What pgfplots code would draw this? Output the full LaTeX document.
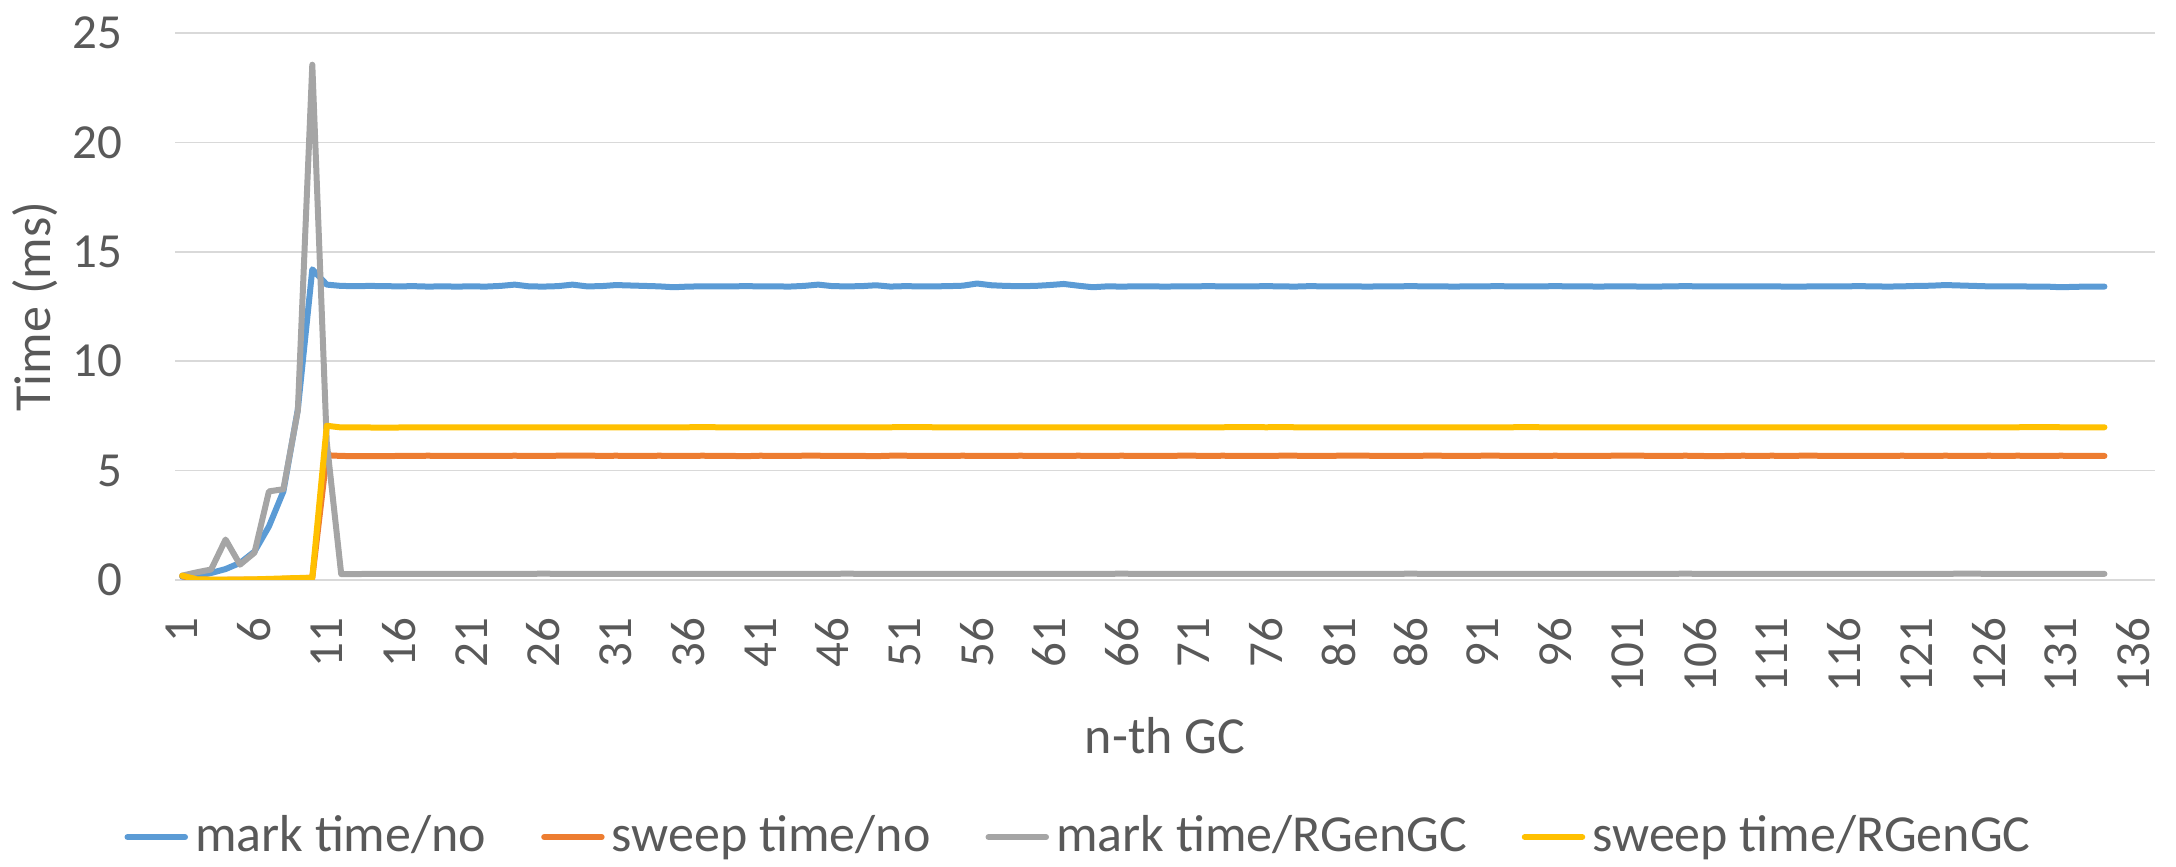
\documentclass[border=0pt]{standalone}
\usepackage{fontspec}
\setmainfont{Carlito}
\usepackage{pgfplots}
\usepackage{pgfplotstable}
\pgfplotsset{compat=1.18}
\definecolor{xlBlue}{HTML}{5B9BD5}
\definecolor{xlOrange}{HTML}{ED7D31}
\definecolor{xlGray}{HTML}{A5A5A5}
\definecolor{xlGold}{HTML}{FFC000}
\definecolor{xlText}{HTML}{595959}
\definecolor{xlGrid}{HTML}{D9D9D9}

% n-th GC, mark/no, sweep/no, mark/RGenGC, sweep/RGenGC  (ms)
\pgfplotstableread{
n mno sno mrg srg
1 0.15 0.18 0.20 0.20
2 0.20 0.02 0.35 0.03
3 0.32 0.01 0.48 0.02
4 0.50 0.01 1.85 0.02
5 0.78 0.02 0.70 0.02
6 1.30 0.02 1.25 0.03
7 2.45 0.03 4.05 0.05
8 4.05 0.05 4.15 0.07
9 7.80 0.08 7.75 0.09
10 14.20 0.10 23.55 0.10
11 13.50 5.70 6.30 7.05
12 13.44 5.67 0.27 6.97
13 13.43 5.66 0.27 6.98
14 13.44 5.66 0.28 6.97
15 13.43 5.66 0.28 6.96
16 13.42 5.67 0.28 6.97
17 13.43 5.67 0.28 6.97
18 13.41 5.68 0.28 6.97
19 13.42 5.67 0.28 6.97
20 13.41 5.67 0.28 6.98
21 13.42 5.67 0.28 6.98
22 13.41 5.67 0.28 6.98
23 13.44 5.67 0.28 6.98
24 13.50 5.68 0.28 6.98
25 13.42 5.67 0.28 6.97
26 13.41 5.67 0.29 6.97
27 13.43 5.68 0.28 6.97
28 13.50 5.68 0.28 6.97
29 13.42 5.69 0.28 6.97
30 13.43 5.67 0.28 6.97
31 13.48 5.68 0.28 6.98
32 13.46 5.67 0.28 6.98
33 13.44 5.67 0.28 6.97
34 13.42 5.68 0.28 6.98
35 13.38 5.67 0.28 6.98
36 13.41 5.67 0.28 6.98
37 13.42 5.68 0.28 6.99
38 13.42 5.67 0.28 6.98
39 13.42 5.67 0.28 6.98
40 13.43 5.66 0.28 6.98
41 13.42 5.68 0.28 6.97
42 13.42 5.67 0.28 6.98
43 13.41 5.67 0.28 6.98
44 13.44 5.68 0.28 6.98
45 13.50 5.68 0.28 6.98
46 13.43 5.67 0.28 6.97
47 13.42 5.67 0.29 6.97
48 13.43 5.67 0.28 6.98
49 13.47 5.66 0.28 6.98
50 13.41 5.68 0.28 6.98
51 13.43 5.68 0.28 6.99
52 13.42 5.67 0.28 6.99
53 13.42 5.67 0.28 6.98
54 13.43 5.67 0.28 6.98
55 13.45 5.68 0.28 6.98
56 13.55 5.67 0.28 6.98
57 13.47 5.67 0.28 6.98
58 13.44 5.67 0.28 6.97
59 13.43 5.68 0.28 6.98
60 13.44 5.67 0.28 6.98
61 13.48 5.67 0.28 6.98
62 13.53 5.67 0.28 6.98
63 13.45 5.68 0.28 6.97
64 13.38 5.67 0.28 6.97
65 13.42 5.67 0.28 6.97
66 13.41 5.68 0.29 6.98
67 13.42 5.67 0.28 6.98
68 13.42 5.67 0.28 6.97
69 13.41 5.67 0.28 6.97
70 13.42 5.68 0.28 6.97
71 13.42 5.68 0.28 6.98
72 13.43 5.67 0.28 6.98
73 13.42 5.68 0.28 6.98
74 13.42 5.67 0.28 6.99
75 13.42 5.67 0.28 6.99
76 13.43 5.67 0.28 6.98
77 13.42 5.68 0.28 6.99
78 13.41 5.68 0.28 6.98
79 13.43 5.67 0.28 6.98
80 13.42 5.67 0.28 6.98
81 13.42 5.68 0.28 6.97
82 13.42 5.68 0.28 6.98
83 13.41 5.68 0.28 6.98
84 13.42 5.67 0.28 6.98
85 13.42 5.67 0.28 6.97
86 13.43 5.67 0.29 6.97
87 13.42 5.68 0.28 6.97
88 13.42 5.68 0.28 6.97
89 13.41 5.67 0.28 6.97
90 13.42 5.67 0.28 6.98
91 13.42 5.68 0.28 6.98
92 13.43 5.68 0.28 6.98
93 13.42 5.67 0.28 6.98
94 13.42 5.67 0.28 6.99
95 13.42 5.67 0.28 6.98
96 13.43 5.68 0.28 6.98
97 13.42 5.67 0.28 6.98
98 13.42 5.67 0.28 6.98
99 13.41 5.67 0.28 6.98
100 13.42 5.68 0.28 6.98
101 13.42 5.68 0.28 6.98
102 13.41 5.68 0.28 6.97
103 13.41 5.67 0.28 6.97
104 13.42 5.67 0.28 6.98
105 13.43 5.68 0.29 6.98
106 13.42 5.67 0.28 6.98
107 13.42 5.66 0.28 6.97
108 13.42 5.67 0.28 6.97
109 13.42 5.68 0.28 6.98
110 13.42 5.67 0.28 6.98
111 13.42 5.68 0.28 6.98
112 13.41 5.67 0.28 6.97
113 13.41 5.68 0.28 6.98
114 13.42 5.68 0.28 6.98
115 13.42 5.67 0.28 6.98
116 13.42 5.67 0.28 6.98
117 13.43 5.67 0.28 6.98
118 13.42 5.67 0.28 6.98
119 13.41 5.67 0.28 6.97
120 13.42 5.68 0.28 6.97
121 13.44 5.67 0.28 6.98
122 13.45 5.67 0.28 6.98
123 13.48 5.68 0.28 6.98
124 13.46 5.67 0.29 6.98
125 13.44 5.67 0.29 6.97
126 13.42 5.68 0.28 6.98
127 13.42 5.67 0.28 6.98
128 13.42 5.68 0.28 6.98
129 13.41 5.67 0.28 6.99
130 13.41 5.67 0.28 6.99
131 13.38 5.68 0.28 6.98
132 13.40 5.67 0.28 6.98
133 13.41 5.67 0.28 6.98
134 13.41 5.67 0.28 6.98
}\gcdata

\begin{document}
\begin{tikzpicture}
\useasboundingbox (-35pt,-57.4pt) rectangle (400.2pt,116pt);
\begin{axis}[
  width=396pt, height=109.4pt, scale only axis,
  xmin=0.5, xmax=137.5,
  ymin=0, ymax=25,
  xtick={1,6,...,136},
  ytick={0,5,...,25},
  ymajorgrids,
  grid style={draw=xlGrid, line width=0.3pt},
  axis line style={draw=none},
  major tick length=0pt,
  /pgf/number format/assume math mode=true,
  tick label style={font=\fontsize{9.8pt}{11.5pt}\selectfont, text=xlText, inner sep=0pt},
  yticklabel style={anchor=east, xshift=-10.4pt},
  xticklabel style={rotate=90, anchor=east},
  xticklabel shift=7.4pt,
  label style={font=\fontsize{10.4pt}{12pt}\selectfont, text=xlText},
  xlabel={n-th GC},
  ylabel={Time (ms)},
  xlabel style={at={(axis description cs:0.5,-0.285)}, anchor=center},
  ylabel style={at={(axis description cs:-0.0707,0.5)}, anchor=center},
  legend style={at={(axis description cs:-0.026,-0.47)}, anchor=west,
    draw=none, fill=none, inner sep=0pt,
    nodes={inner sep=0pt},
    font=\fontsize{10.4pt}{12pt}\selectfont, text=xlText,
    legend columns=4,
    /tikz/every odd column/.append style={column sep=1.4pt},
    /tikz/every even column/.append style={column sep=11pt}},
  legend image code/.code={\draw[#1, line width=1.2pt] (0pt,0pt) -- (11.5pt,0pt);},
  every axis plot/.append style={line width=1.2pt, line join=round, line cap=round, mark=none}
]
  \addplot[xlBlue] table[x=n, y=mno] {\gcdata};
  \addplot[xlOrange] table[x=n, y=sno] {\gcdata};
  \addplot[xlGray] table[x=n, y=mrg] {\gcdata};
  \addplot[xlGold] table[x=n, y=srg] {\gcdata};
  \legend{mark time/no, sweep time/no, mark time/RGenGC, sweep time/RGenGC}
\end{axis}
\end{tikzpicture}
\end{document}
